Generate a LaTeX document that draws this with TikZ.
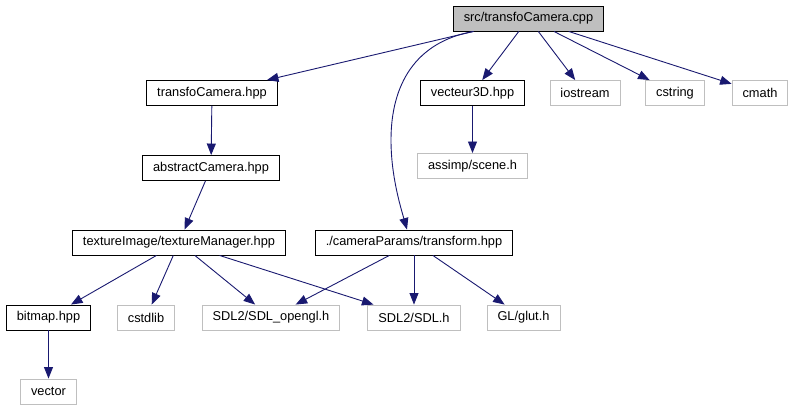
\documentclass[tikz,border=0pt]{standalone}
\usepackage{fontspec}
\setmainfont{Liberation Sans}
\usepackage{tikz}
\usetikzlibrary{arrows.meta,positioning,calc}
\definecolor{edgeblue}{RGB}{25,25,112}
\definecolor{extgrey}{RGB}{191,191,191}

\begin{document}
\begin{tikzpicture}[
    x=1pt, y=-1pt,
    inc/.style={rectangle, draw=black, line width=0.9pt, inner xsep=10.5pt, inner ysep=0pt, minimum height=25pt, font=\fontsize{12.8}{14}\selectfont},
    ext/.style={inc, draw=extgrey},
    dep/.style={-{Triangle[length=11.5pt,width=9pt,fill=edgeblue]}, draw=edgeblue, line width=0.9pt},
]
    \useasboundingbox (0,0) rectangle (795,411);
    \node[inc, fill=extgrey] (root) at (528.5,18.5) {src/transfoCamera.cpp};
    \node[inc] (tcam) at (212,93) {transfoCamera.hpp};
    \node[inc] (vec3d) at (472.5,93) {vecteur3D.hpp};
    \node[ext] (iostream) at (585,93) {iostream};
    \node[ext] (cstring) at (675,93) {cstring};
    \node[ext] (cmath) at (760,93) {cmath};
    \node[ext] (scene) at (472.5,166) {assimp/scene.h};
    \node[inc] (acam) at (211,168) {abstractCamera.hpp};
    \node[inc] (texman) at (179,242.5) {textureImage/textureManager.hpp};
    \node[inc] (trans) at (414,242.5) {./cameraParams/transform.hpp};
    \node[inc] (bitmap) at (48.5,317.5) {bitmap.hpp};
    \node[ext] (cstdlib) at (146,317.5) {cstdlib};
    \node[ext] (sdlgl) at (271,317.5) {SDL2/SDL\_opengl.h};
    \node[ext] (sdl) at (414,317.5) {SDL2/SDL.h};
    \node[ext] (glut) at (523.5,317.5) {GL/glut.h};
    \node[ext] (vector) at (48.5,391.5) {vector};

    \draw[dep] (root) -- (tcam);
    \draw[dep] ([xshift=-55pt]root.south) .. controls (415,42) and (391,85) .. (391,140)
        .. controls (391,175) and (400,205) .. ([xshift=-7pt]trans.north);
    \draw[dep] (root) -- (vec3d);
    \draw[dep] (root) -- (iostream);
    \draw[dep] (root) -- (cstring);
    \draw[dep] (root) -- (cmath);
    \draw[dep] (tcam) -- (acam);
    \draw[dep] (vec3d) -- (scene);
    \draw[dep] (acam) -- (texman);
    \draw[dep] (texman) -- (bitmap);
    \draw[dep] (texman) -- (cstdlib);
    \draw[dep] (texman) -- (sdlgl);
    \draw[dep] (texman) -- (sdl);
    \draw[dep] (trans) -- (sdlgl);
    \draw[dep] (trans) -- (sdl);
    \draw[dep] (trans) -- (glut);
    \draw[dep] (bitmap) -- (vector);
\end{tikzpicture}
\end{document}
